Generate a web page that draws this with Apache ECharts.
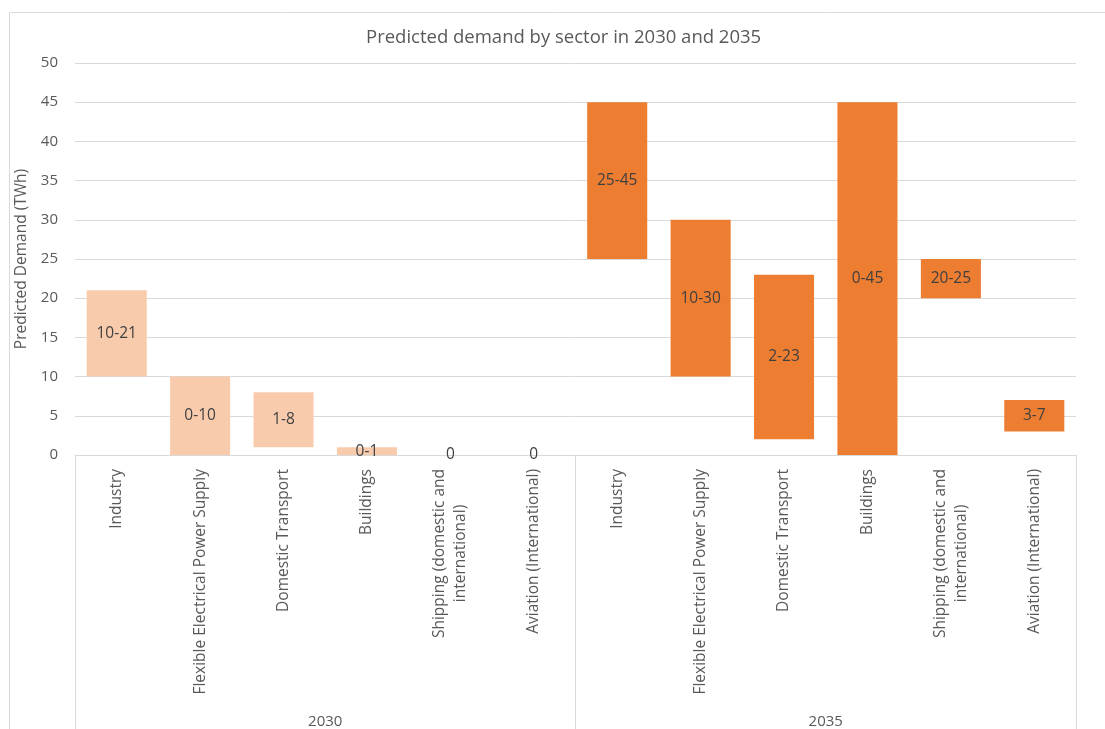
<!DOCTYPE html>
<html>
<head>
<meta charset="utf-8">
<script src="https://cdn.jsdelivr.net/npm/echarts@6/dist/echarts.min.js"></script>
<style>html,body{margin:0;padding:0;background:#fff;}#c{width:1105px;height:729px;}</style>
</head>
<body>
<div id="c"></div>
<script>
const sectors = ['Industry','Flexible Electrical Power Supply','Domestic Transport','Buildings','Shipping (domestic and\ninternational)','Aviation (International)'];
const years = ['2030','2035'];
const low2030 = [10, 0, 1, 0, 0, 0];
const high2030 = [21, 10, 8, 1, 0, 0];
const low2035 = [25, 10, 2, 0, 20, 3];
const high2035 = [45, 30, 23, 45, 25, 7];
const yTicks = {min: 0, max: 50, interval: 5};

const categories = sectors.concat(sectors);
const lows = low2030.concat(low2035);
const highs = high2030.concat(high2035);
const spans = highs.map((h, i) => h - lows[i]);

const FONT = '"Open Sans", sans-serif';
const TXT = '#595959';
const chart = echarts.init(document.getElementById('c'), null, {renderer: 'canvas'});
chart.setOption({
  animation: false,
  backgroundColor: '#fff',
  title: {
    text: 'Predicted demand by sector in 2030 and 2035',
    left: 361, top: 23,
    textStyle: {fontFamily: FONT, fontSize: 18.5, fontWeight: 'normal', color: TXT}
  },
  graphic: [{
    type: 'rect', shape: {x: 9.5, y: 12.5, width: 1110, height: 730},
    style: {fill: 'none', stroke: '#d9d9d9', lineWidth: 1}, silent: true
  }],
  grid: {left: 75, right: 29, top: 63, bottom: 272},
  xAxis: [{
    type: 'category',
    data: categories,
    axisLine: {show: true, lineStyle: {color: '#d9d9d9'}},
    axisTick: {show: false},
    axisLabel: {
      interval: 0, rotate: 90, margin: 14,
      fontFamily: FONT, fontSize: 15.5, color: TXT, lineHeight: 21,
      formatter: v => v.split('\n').map(s => '{c|' + s + '}').join('\n'),
      rich: {c: {align: 'center', fontFamily: FONT, fontSize: 15.5, color: TXT, lineHeight: 21}}
    }
  }, {
    type: 'category',
    position: 'bottom',
    data: years,
    axisLine: {show: false},
    axisTick: {show: true, length: 290, lineStyle: {color: '#d9d9d9'}},
    axisLabel: {margin: 259, fontFamily: FONT, fontSize: 15, color: TXT}
  }],
  yAxis: {
    type: 'value',
    min: yTicks.min, max: yTicks.max, interval: yTicks.interval,
    name: 'Predicted Demand (TWh)',
    nameLocation: 'middle', nameGap: 34, nameRotate: 90,
    nameTextStyle: {fontFamily: FONT, fontSize: 15.5, color: TXT},
    axisLine: {show: false}, axisTick: {show: false},
    axisLabel: {margin: 17, fontFamily: FONT, fontSize: 15, color: TXT},
    splitLine: {lineStyle: {color: '#d9d9d9'}}
  },
  series: [{
    name: 'base', type: 'bar', stack: 'r', xAxisIndex: 0,
    data: lows, itemStyle: {color: 'rgba(0,0,0,0)'}, silent: true,
    barCategoryGap: '28%'
  }, {
    name: 'range', type: 'bar', stack: 'r', xAxisIndex: 0,
    data: spans,
    barCategoryGap: '28%',
    itemStyle: {color: p => p.dataIndex < sectors.length ? '#F8CBAD' : '#ED7D31'},
    label: {
      show: true, position: 'inside',
      fontFamily: FONT, fontSize: 15.5, color: '#404040',
      formatter: p => {
        const lo = lows[p.dataIndex], hi = highs[p.dataIndex];
        return (lo === 0 && hi === 0) ? '0' : lo + '-' + hi;
      }
    }
  }]
});
</script>
</body>
</html>
